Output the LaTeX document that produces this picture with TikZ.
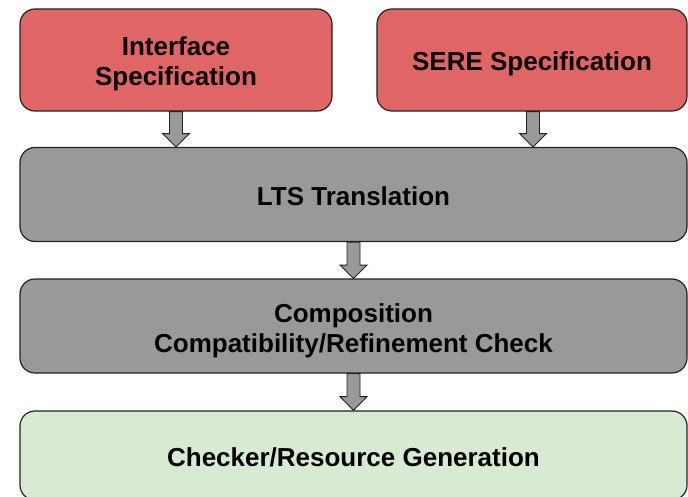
\documentclass[tikz,border=0pt]{standalone}
\usepackage{fontspec}
\setmainfont{Liberation Sans}
\definecolor{specred}{HTML}{E06666}
\definecolor{stepgray}{HTML}{999999}
\definecolor{outgreen}{HTML}{D9EAD3}
\definecolor{edgedark}{HTML}{222222}
% centred lines, set a little below the box centre
\newcommand{\boxlines}[1]{\raisebox{-5pt}[\height][\depth]{\begin{tabular}{@{}c@{}}#1\end{tabular}}}
\begin{document}
\begin{tikzpicture}[x=1pt,y=-1pt,
  box/.style={draw=edgedark,line width=1.2pt,rounded corners=15pt,
    inner sep=0pt,align=center,
    font=\fontsize{26}{30}\selectfont\bfseries},
  flowarrow/.style={draw=edgedark,fill=stepgray,line width=0.9pt,line join=miter}]
\useasboundingbox (0,0) rectangle (688,497);
\clip (0,0) rectangle (688,497);

% input specifications
\node[box,fill=specred,minimum width=312pt,minimum height=102pt] (iface) at (176,60)
  {\boxlines{Interface\\Specification}};
\node[box,fill=specred,minimum width=310pt,minimum height=102pt] (sere) at (532,60)
  {\boxlines{SERE Specification}};

% processing steps
\node[box,fill=stepgray,minimum width=667pt,minimum height=94pt] (lts) at (353.5,194.5)
  {\boxlines{LTS Translation}};
\node[box,fill=stepgray,minimum width=667pt,minimum height=94pt] (comp) at (353.5,326)
  {\boxlines{Composition\\Compatibility/Refinement Check}};

% output
\node[box,fill=outgreen,minimum width=667pt,minimum height=89pt] (check) at (353.5,455.5)
  {\boxlines{Checker/Resource Generation}};

% block arrows between stages
\newcommand{\blockarrow}[3]{%
  \path[flowarrow] ([xshift=-6.5pt]#1) -- ([xshift=-6.5pt,yshift=#3]#1)
    -- ([xshift=-13.5pt,yshift=#3]#1) -- (#2)
    -- ([xshift=13.5pt,yshift=#3]#1) -- ([xshift=6.5pt,yshift=#3]#1)
    -- ([xshift=6.5pt]#1) -- cycle;}
\coordinate (a1) at (iface.south);
\coordinate (a1t) at (iface.south |- lts.north);
\blockarrow{a1}{a1t}{-22pt}
\coordinate (a2) at ([xshift=1pt]sere.south);
\coordinate (a2t) at (a2 |- lts.north);
\blockarrow{a2}{a2t}{-22pt}
\coordinate (a3) at (lts.south);
\coordinate (a3t) at (comp.north);
\blockarrow{a3}{a3t}{-23pt}
\coordinate (a4) at (comp.south);
\coordinate (a4t) at (check.north);
\blockarrow{a4}{a4t}{-23pt}
\end{tikzpicture}
\end{document}
